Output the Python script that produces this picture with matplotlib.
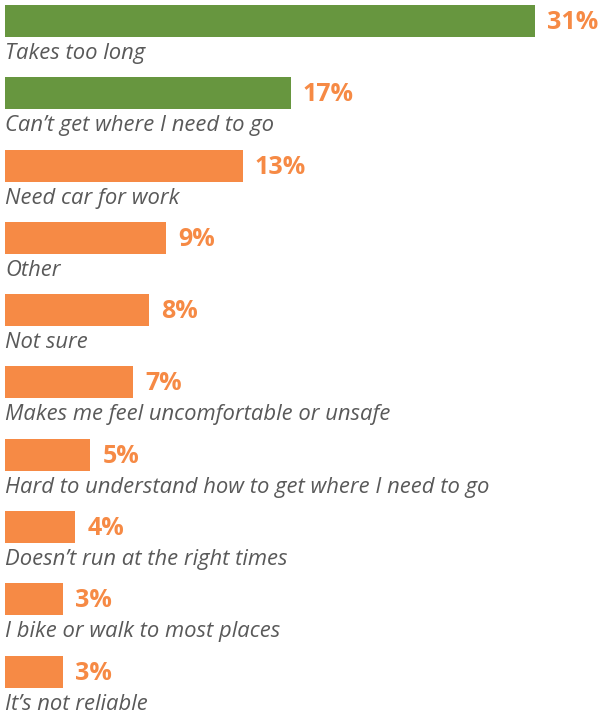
import matplotlib.pyplot as plt

# reasons, top to bottom
reasons = ["Takes too long", "Can\u2019t get where I need to go", "Need car for work",
           "Other", "Not sure", "Makes me feel uncomfortable or unsafe",
           "Hard to understand how to get where I need to go",
           "Doesn\u2019t run at the right times", "I bike or walk to most places",
           "It\u2019s not reliable"]
# bar lengths as drawn in the picture
values = [31, 16.7, 13.9, 9.4, 8.4, 7.5, 5.0, 4.1, 3.4, 3.4]
value_labels = ["31%", "17%", "13%", "9%", "8%", "7%", "5%", "4%", "3%", "3%"]

green = "#67963f"
orange = "#f68a45"
grey = "#595959"
colors = [green, green] + [orange] * 8

plt.rcParams['font.family'] = ['Open Sans', 'DejaVu Sans']

fig = plt.figure(figsize=(6, 7.15), dpi=100)
ax = fig.add_axes([0, 0, 1, 1])

ys = list(range(len(reasons)))
ax.barh(ys, values, height=0.443, color=colors, left=0)

for y, v, lab, txt in zip(ys, values, value_labels, reasons):
    ax.text(v + 0.72, y + 0.02, lab, color=orange, fontsize=18, fontweight='bold',
            va='center', ha='left')
    ax.text(0.02, y + 0.45, txt, color=grey, fontsize=15.8, style='italic',
            va='center', ha='left')

ax.set_xlim(-0.292, 34.8)
ax.set_ylim(9.6, -0.29)
ax.axis('off')

fig.savefig("out.png", dpi=100)
